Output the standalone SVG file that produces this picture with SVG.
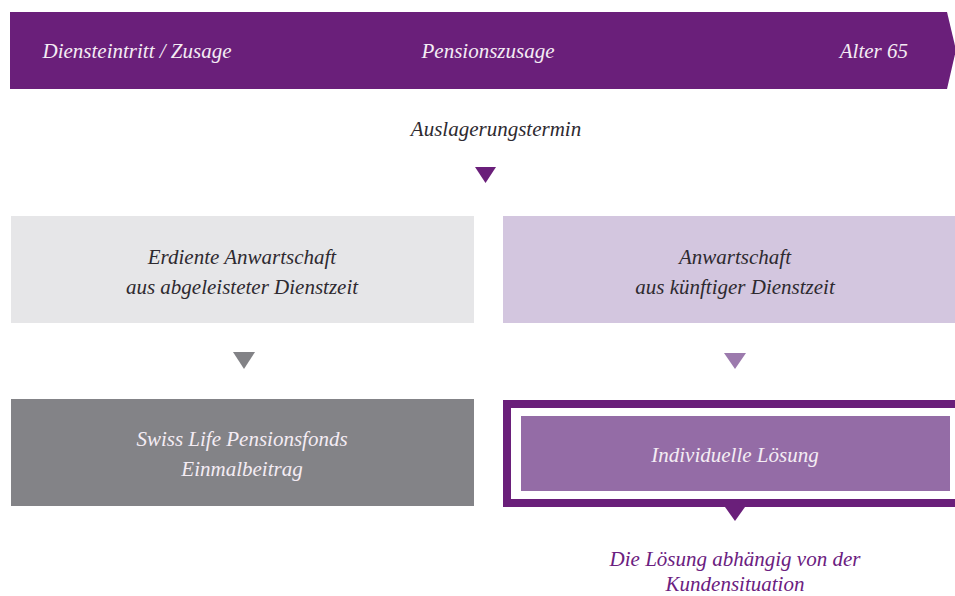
<svg xmlns="http://www.w3.org/2000/svg" width="955" height="596" viewBox="0 0 955 596">
<style>
text{font-family:'Liberation Serif','Times New Roman','DejaVu Serif',serif;font-style:italic;font-size:21px;text-anchor:middle}
.w{fill:#f4ecf4}
.d{fill:#2e2a30}
.p{fill:#6b2080}
</style>
<rect width="955" height="596" fill="#ffffff"/>
<g id="banner">
<polygon points="10,12 947,12 956,50 947,89 10,89" fill="#6a1f7a"/>
<text class="w" x="137" y="58">Diensteintritt / Zusage</text>
<text class="w" x="488" y="58">Pensionszusage</text>
<text class="w" x="908" y="58" text-anchor="end" style="text-anchor:end">Alter 65</text>
</g>
<g id="auslagerung">
<text class="d" x="496" y="136">Auslagerungstermin</text>
</g>
<g id="erdiente">
<rect x="11" y="216" width="463" height="107" fill="#e6e6e8"/>
<text class="d" x="242" y="264">Erdiente Anwartschaft</text>
<text class="d" x="242" y="294">aus abgeleisteter Dienstzeit</text>
</g>
<g id="kuenftig">
<rect x="503" y="216" width="452" height="107" fill="#d3c6df"/>
<text class="d" x="735" y="264">Anwartschaft</text>
<text class="d" x="735" y="294">aus künftiger Dienstzeit</text>
</g>
<g id="pensionsfonds">
<rect x="11" y="399" width="463" height="107" fill="#838387"/>
<text class="w" x="242" y="446">Swiss Life Pensionsfonds</text>
<text class="w" x="242" y="476">Einmalbeitrag</text>
</g>
<g id="individuell">
<rect x="507" y="404" width="452" height="99" fill="none" stroke="#6a1f7a" stroke-width="8"/>
<rect x="521" y="416" width="429" height="75" fill="#946ca6"/>
<text class="w" x="735" y="462">Individuelle Lösung</text>
</g>
<g id="kundensituation">
<text class="p" x="735" y="566">Die Lösung abhängig von der</text>
<text class="p" x="735" y="591">Kundensituation</text>
</g>
<g id="connectors">
<polygon points="475,167 496,167 485.5,183" fill="#6a1f7a"/>
<polygon points="233,352 255,352 244,369" fill="#828286"/>
<polygon points="724,353 746,353 735,369" fill="#9c7aad"/>
<polygon points="725,507 745,507 735,521" fill="#6a1f7a"/>
</g>
</svg>
